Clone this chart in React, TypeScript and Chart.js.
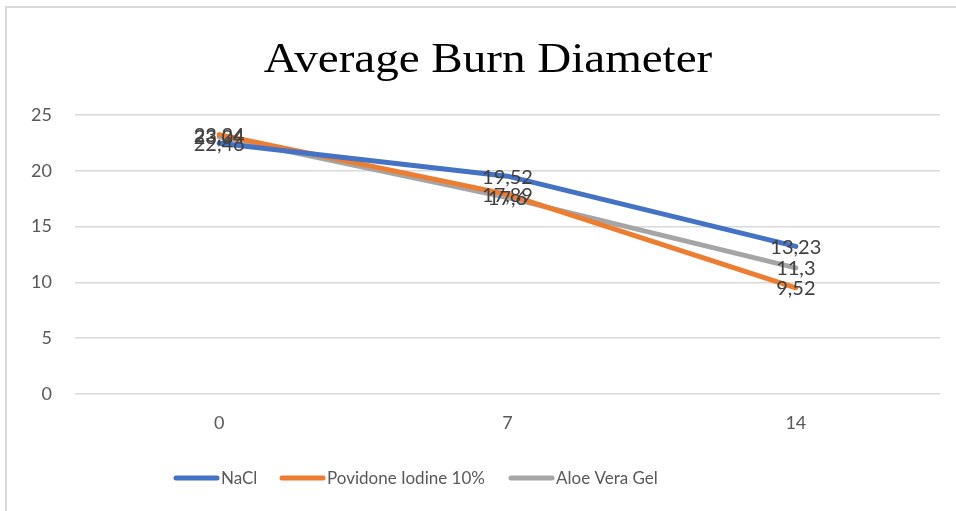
import React, { useEffect, useRef } from "react";
import { Chart, registerables } from "chart.js";

Chart.register(...registerables);

const categories = ["0", "7", "14"];
const naclValues = [22.46, 19.52, 13.23];
const povidoneValues = [23.24, 17.89, 9.52];
const aloeValues = [23.04, 17.6, 11.3];
const seriesNames = ["NaCl", "Povidone Iodine 10%", "Aloe Vera Gel"];
const seriesColors = ["#4472C4", "#ED7D31", "#A5A5A5"];
const titleText = "Average Burn Diameter";

const FONT = "Lato, 'Noto Sans', sans-serif";

const framePlugin = {
  id: "frame",
  beforeDraw(chart: any) {
    const ctx = chart.ctx;
    ctx.save();
    ctx.fillStyle = "#ffffff";
    ctx.fillRect(0, 0, chart.width, chart.height);
    ctx.strokeStyle = "#d9d9d9";
    ctx.lineWidth = 2;
    ctx.strokeRect(6, 7, chart.width + 20, chart.height + 20);
    ctx.restore();
  },
  afterDraw(chart: any) {
    const ctx = chart.ctx;
    ctx.save();
    // title (slightly widened like the reference)
    ctx.save();
    ctx.translate(488, 72);
    ctx.scale(1.12, 1);
    ctx.fillStyle = "#000000";
    ctx.font = "42px 'Liberation Serif', 'Times New Roman', serif";
    ctx.textAlign = "center";
    ctx.textBaseline = "alphabetic";
    ctx.fillText(titleText, 0, 0);
    ctx.restore();
    // legend
    ctx.font = `17px ${FONT}`;
    ctx.textAlign = "left";
    ctx.textBaseline = "middle";
    const starts = [176, 282, 511];
    chart.data.datasets.forEach((ds: any, i: number) => {
      const x = starts[i];
      const y = 478;
      ctx.strokeStyle = ds.borderColor;
      ctx.lineWidth = 5;
      ctx.lineCap = "round";
      ctx.beginPath();
      ctx.moveTo(x, y);
      ctx.lineTo(x + 41, y);
      ctx.stroke();
      ctx.fillStyle = "#595959";
      ctx.fillText(ds.label, x + 45, y + 1);
    });
    // data labels
    ctx.font = `20px ${FONT}`;
    ctx.textAlign = "center";
    ctx.textBaseline = "middle";
    ctx.fillStyle = "#404040";
    chart.data.datasets.forEach((ds: any, i: number) => {
      const meta = chart.getDatasetMeta(i);
      meta.data.forEach((pt: any, j: number) => {
        const v = ds.data[j];
        const txt = String(v).replace(".", ",");
        ctx.fillText(txt, pt.x, pt.y + 1);
      });
    });
    ctx.restore();
  },
};

export default function App() {
  const ref = useRef<HTMLCanvasElement | null>(null);
  useEffect(() => {
    if (!ref.current) return;
    const chart = new Chart(ref.current, {
      type: "line",
      data: {
        labels: categories,
        datasets: [naclValues, povidoneValues, aloeValues].map((vals, i) => ({
          label: seriesNames[i],
          data: vals,
          borderColor: seriesColors[i],
          backgroundColor: seriesColors[i],
          borderWidth: 5,
          borderCapStyle: "round" as const,
          borderJoinStyle: "round" as const,
          pointRadius: 0,
          tension: 0,
        })),
      },
      options: {
        animation: false,
        responsive: false,
        maintainAspectRatio: false,
        layout: { padding: { top: 115, left: 0, right: 16, bottom: 0 } },
        plugins: {
          legend: { display: false },
          title: { display: false },
          tooltip: { enabled: false },
        },
        scales: {
          x: {
            offset: true,
            grid: { display: false, drawTicks: false },
            border: { display: false },
            ticks: {
              color: "#595959",
              font: { family: FONT, size: 18 },
              padding: 18,
            },
            afterFit(scale: any) {
              scale.height = 511 - 394;
            },
          },
          y: {
            min: 0,
            max: 25,
            ticks: {
              stepSize: 5,
              color: "#595959",
              font: { family: FONT, size: 18 },
              padding: 23,
            },
            grid: { color: "#d9d9d9", lineWidth: 1.5, drawTicks: false },
            border: { display: false },
            afterFit(scale: any) {
              scale.width = 75;
            },
          },
        },
      },
      plugins: [framePlugin],
    });
    return () => chart.destroy();
  }, []);
  return (
    <div style={{ position: "fixed", left: 0, top: 0, width: 956, height: 511 }}>
      <canvas ref={ref} width={956} height={511} style={{ display: "block" }} />
    </div>
  );
}
